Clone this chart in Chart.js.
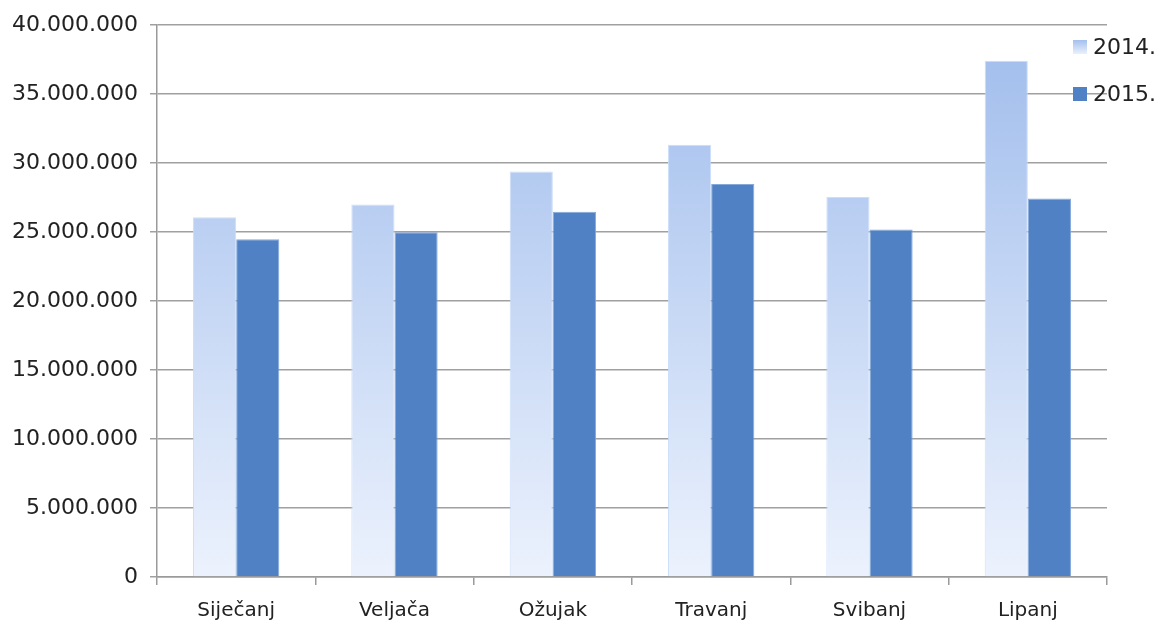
<!DOCTYPE html>
<html>
<head>
<meta charset="utf-8">
<script src="https://cdn.jsdelivr.net/npm/chart.js@4/dist/chart.umd.min.js"></script>
<style>
  html, body { margin: 0; padding: 0; background: #fff; }
  #wrap { width: 1157px; height: 624px; }
</style>
</head>
<body>
<div id="wrap"><canvas id="grafikon" width="1157" height="624"></canvas></div>
<script>
const mjeseci = ['Siječanj', 'Veljača', 'Ožujak', 'Travanj', 'Svibanj', 'Lipanj'];
const podaci2014 = [26080000, 27000000, 29400000, 31340000, 27550000, 37430000];
const podaci2015 = [24490000, 25000000, 26470000, 28490000, 25190000, 27430000];
const godine = ['2014.', '2015.'];
const yMax = 40000000;
const yKorak = 5000000;

const FONT = 'DejaVu Sans';

function gradijent(context) {
  const chart = context.chart;
  const area = chart.chartArea;
  if (!area) return '#a4c0ee';
  const g = chart.ctx.createLinearGradient(0, area.top, 0, area.bottom);
  g.addColorStop(0, '#9fbcec');
  g.addColorStop(1, '#ecf2fd');
  return g;
}

const legendaPlugin = {
  id: 'legenda',
  afterDraw(chart) {
    const ctx = chart.ctx;
    ctx.save();
    ctx.font = '22px "' + FONT + '"';
    ctx.textBaseline = 'middle';
    const ys = [47, 94];
    chart.data.datasets.forEach((ds, i) => {
      const y = ys[i];
      if (i === 0) {
        const g = ctx.createLinearGradient(0, y - 7, 0, y + 7);
        g.addColorStop(0, '#a4c0ee');
        g.addColorStop(1, '#eaf1fc');
        ctx.fillStyle = g;
      } else {
        ctx.fillStyle = '#4f81c4';
      }
      ctx.fillRect(1073, y - 7, 14, 14);
      ctx.fillStyle = '#222';
      ctx.fillText(ds.label, 1093, y + 1);
    });
    ctx.restore();
  }
};

new Chart(document.getElementById('grafikon').getContext('2d'), {
  type: 'bar',
  data: {
    labels: mjeseci,
    datasets: [
      { label: godine[0], data: podaci2014, backgroundColor: gradijent, borderColor: 'rgba(200,218,248,0.9)', borderWidth: 1 },
      { label: godine[1], data: podaci2015, backgroundColor: '#4f81c4', borderColor: 'rgba(120,160,215,0.9)', borderWidth: 1 }
    ]
  },
  options: {
    responsive: false,
    animation: false,
    devicePixelRatio: 1,
    layout: { padding: { top: 8, right: 50, left: 0, bottom: 0 } },
    datasets: { bar: { categoryPercentage: 0.545, barPercentage: 1 } },
    plugins: { legend: { display: false }, tooltip: { enabled: false } },
    scales: {
      x: {
        grid: { display: true, drawOnChartArea: false, color: '#9a9a9a', lineWidth: 1.5, tickLength: 8, offset: true },
        border: { color: '#9a9a9a', width: 1.5 },
        ticks: { color: '#222', font: { family: FONT, size: 20 }, padding: 14 },
        afterFit(scale) { scale.height = 47; }
      },
      y: {
        min: 0,
        max: yMax,
        grid: { color: '#a0a0a0', lineWidth: 1.5, tickLength: 7 },
        border: { color: '#9a9a9a', width: 1.5 },
        ticks: {
          stepSize: yKorak,
          color: '#222',
          font: { family: FONT, size: 22 },
          padding: 12,
          callback: v => v === 0 ? '0' : v.toString().replace(/\B(?=(\d{3})+(?!\d))/g, '.')
        },
        afterFit(scale) { scale.width = 157; }
      }
    }
  },
  plugins: [legendaPlugin]
});
</script>
</body>
</html>
